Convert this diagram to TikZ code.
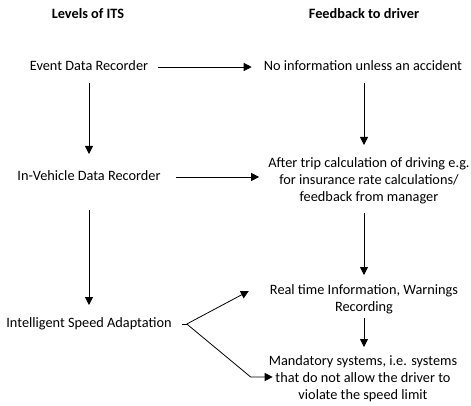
\documentclass[tikz,border=0pt]{standalone}
\usepackage{fontspec}
\setmainfont{Carlito}
\usetikzlibrary{arrows.meta}
\begin{document}
\begin{tikzpicture}[x=1pt,y=-1pt,
  lbl/.style={inner sep=0pt,font=\fontsize{14.3}{17}\selectfont,align=center},
  one/.style={lbl,text height=10pt,text depth=3pt},
  head/.style={one,font=\fontsize{14.3}{17}\selectfont\bfseries},
  arr/.style={line width=0.8pt,-{Triangle[length=8pt,width=8pt]}},
  ln/.style={line width=0.8pt}]
\useasboundingbox (0,0) rectangle (471,406);
\node[head] (h1) at (88,15) {Levels of ITS};
\node[head] (h2) at (364,15) {Feedback to driver};
\node[one] (edr) at (89,67) {Event Data Recorder};
\node[one] (noinfo) at (363,67) {No information unless an accident};
\node[one] (ivdr) at (89,177) {In-Vehicle Data Recorder};
\node[lbl] (after) at (369,181) {After trip calculation of driving e.g.\\for insurance rate calculations/\\feedback from manager};
\node[one] (isa) at (89,324) {Intelligent Speed Adaptation};
\node[lbl] (rt) at (364,299) {Real time Information, Warnings\\Recording};
\node[lbl] (mand) at (363,379) {Mandatory systems, i.e. systems\\that do not allow the driver to\\violate the speed limit};
% left column
\draw[arr] ([xshift=10pt]edr.east) -- ([xshift=-12pt]noinfo.west);
\draw[arr] ([yshift=-16pt]edr.center) -- ([yshift=23pt]ivdr.center);
\draw[arr] ([xshift=15pt]ivdr.east) -- ([xshift=-9pt]after.west |- ivdr.center);
\draw[arr] ([yshift=-33pt]ivdr.center) -- ([yshift=19pt]isa.center);
% right column
\draw[arr] ([shift={(1pt,-16pt)}]noinfo.center) -- ([yshift=36pt]after.center -| rt.center);
\draw[arr] ([yshift=-32pt]after.center -| rt.center) -- ([yshift=24pt]rt.center);
\draw[arr] ([yshift=-19pt]rt.center) -- ([yshift=32pt]rt.center |- mand.center);
% ISA branches
\coordinate (j) at ([xshift=15pt]isa.east);
\draw[ln] ([xshift=10pt]isa.east) -- (j);
\draw[arr] (j) -- ([shift={(-21pt,8pt)}]rt.west);
\draw[arr] (j) -- ([shift={(-18pt,2pt)}]mand.west) -- ([shift={(4pt,2pt)}]mand.west);
\end{tikzpicture}
\end{document}
